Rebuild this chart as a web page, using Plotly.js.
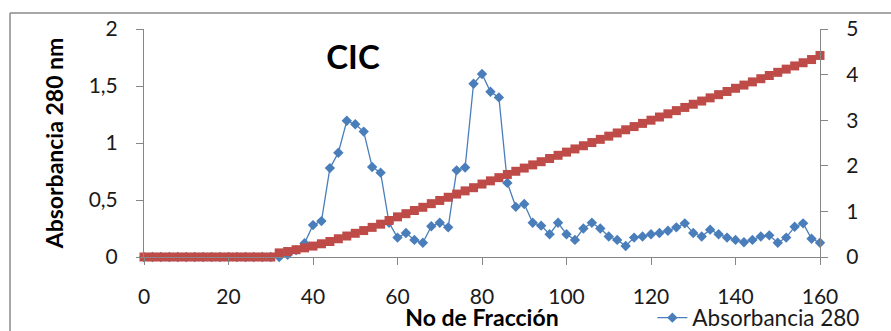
<!DOCTYPE html>
<html>
<head>
<meta charset="utf-8">
<script src="https://cdn.plot.ly/plotly-3.0.1.min.js"></script>
<style>html,body{margin:0;padding:0;background:#fff;}#chart{width:891px;height:331px;}</style>
</head>
<body>
<div id="chart"></div>
<script>
// Fraction numbers (every 2nd fraction)
const fracciones = [0,2,4,6,8,10,12,14,16,18,20,22,24,26,28,30,32,34,36,38,40,42,44,46,48,50,52,54,56,58,60,62,64,66,68,70,72,74,76,78,80,82,84,86,88,90,92,94,96,98,100,102,104,106,108,110,112,114,116,118,120,122,124,126,128,130,132,134,136,138,140,142,144,146,148,150,152,154,156,158,160];

// Absorbancia 280 nm (left axis)
const absorbancia = [0,0,0,0,0,0,0,0,0,0,0,0,0,0,0,0,0,0.02,0.06,0.12,
  0.28,0.315,0.78,0.915,1.195,1.165,1.10,0.79,0.74,0.30,
  0.17,0.21,0.15,0.125,0.27,0.30,0.26,0.76,0.785,1.52,
  1.605,1.45,1.40,0.65,0.44,0.465,0.30,0.275,0.20,0.30,
  0.20,0.15,0.25,0.30,0.25,0.18,0.15,0.097,0.17,0.18,
  0.20,0.21,0.23,0.26,0.295,0.21,0.18,0.24,0.20,0.17,
  0.15,0.13,0.15,0.18,0.19,0.125,0.17,0.265,0.295,0.16,0.125];

// Gradient (right axis)
const gradiente = [0,0,0,0,0,0,0,0,0,0,0,0,0,0,0,0,0.09,0.12,0.16,0.20,
  0.24,0.29,0.34,0.40,0.46,0.52,0.58,0.65,0.72,0.80,
  0.88,0.95,1.02,1.09,1.17,1.24,1.31,1.38,1.45,1.52,
  1.60,1.67,1.74,1.81,1.88,1.95,2.02,2.09,2.16,2.23,
  2.30,2.37,2.44,2.51,2.58,2.65,2.72,2.79,2.86,2.93,
  3.00,3.07,3.14,3.21,3.28,3.35,3.42,3.49,3.56,3.63,
  3.70,3.77,3.84,3.91,3.98,4.05,4.12,4.19,4.26,4.33,4.42];

const xTicks = [0,20,40,60,80,100,120,140,160];
const yTicks = [0,0.5,1,1.5,2];
const y2Ticks = [0,1,2,3,4,5];

const FONT = 'Lato, "Liberation Sans", Arial, sans-serif';
const AXC = '#868686';

const traces = [
  {
    x: fracciones, y: absorbancia, name: 'Absorbancia 280',
    type: 'scatter', mode: 'lines+markers', yaxis: 'y',
    line: {color: '#4a7ebb', width: 1.3},
    marker: {symbol: 'diamond', size: 8, color: '#4a7ebb'},
    cliponaxis: false
  },
  {
    x: fracciones, y: gradiente, name: 'Gradiente',
    type: 'scatter', mode: 'lines+markers', yaxis: 'y2',
    line: {color: '#be4b48', width: 2},
    marker: {symbol: 'square', size: 9, color: '#be4b48'},
    cliponaxis: false, showlegend: false
  }
];

const layout = {
  width: 891, height: 331,
  margin: {l: 144, r: 71, t: 29, b: 74, autoexpand: false},
  paper_bgcolor: '#fff', plot_bgcolor: '#fff',
  separators: ',.',
  font: {family: FONT, size: 21, color: '#1a1a1a'},
  title: {
    text: '<b>CIC</b>', font: {family: FONT, size: 33, color: '#000'},
    x: 353/891, xanchor: 'center', xref: 'container',
    y: 1 - 57/331, yanchor: 'middle', yref: 'container'
  },
  showlegend: true,
  legend: {
    orientation: 'h', x: 0.752, xanchor: 'left', y: (257-318)/228, yanchor: 'middle',
    font: {family: FONT, size: 22.5, color: '#1a1a1a'},
    bgcolor: 'rgba(0,0,0,0)', borderwidth: 0
  },
  xaxis: {
    range: [0, 160], tickvals: xTicks, ticks: 'outside', ticklen: 7, tickcolor: AXC,
    showline: true, linecolor: AXC, linewidth: 1, showgrid: false, zeroline: false,
    ticklabelstandoff: 14, automargin: false,
    title: {text: '<b>No de Fracción</b>', font: {family: FONT, size: 23, color: '#000'}, standoff: 0}
  },
  yaxis: {
    range: [0, 2], tickvals: yTicks, ticks: 'outside', ticklen: 7, tickcolor: AXC,
    showline: true, linecolor: AXC, linewidth: 1, showgrid: false, zeroline: false,
    ticklabelstandoff: 14, automargin: false,
    title: {text: '<b>Absorbancia 280 nm</b>', font: {family: FONT, size: 23, color: '#000'}, standoff: 18}
  },
  yaxis2: {
    range: [0, 5], tickvals: y2Ticks, overlaying: 'y', side: 'right',
    ticks: 'outside', ticklen: 7, tickcolor: AXC, automargin: false,
    showline: true, linecolor: AXC, linewidth: 1, showgrid: false, zeroline: false,
    ticklabelstandoff: 14
  },
  shapes: [
    {type: 'line', xref: 'paper', yref: 'paper', x0: (10-144)/676, x1: 1.2, y0: 1+(29-13)/228, y1: 1+(29-13)/228, line: {color: '#8a8a8a', width: 1.5}},
    {type: 'line', xref: 'paper', yref: 'paper', x0: (10-144)/676, x1: (10-144)/676, y0: 1+(29-13)/228, y1: -0.5, line: {color: '#8a8a8a', width: 1.5}}
  ]
};

Plotly.newPlot('chart', traces, layout, {staticPlot: true, displayModeBar: false});
</script>
</body>
</html>
